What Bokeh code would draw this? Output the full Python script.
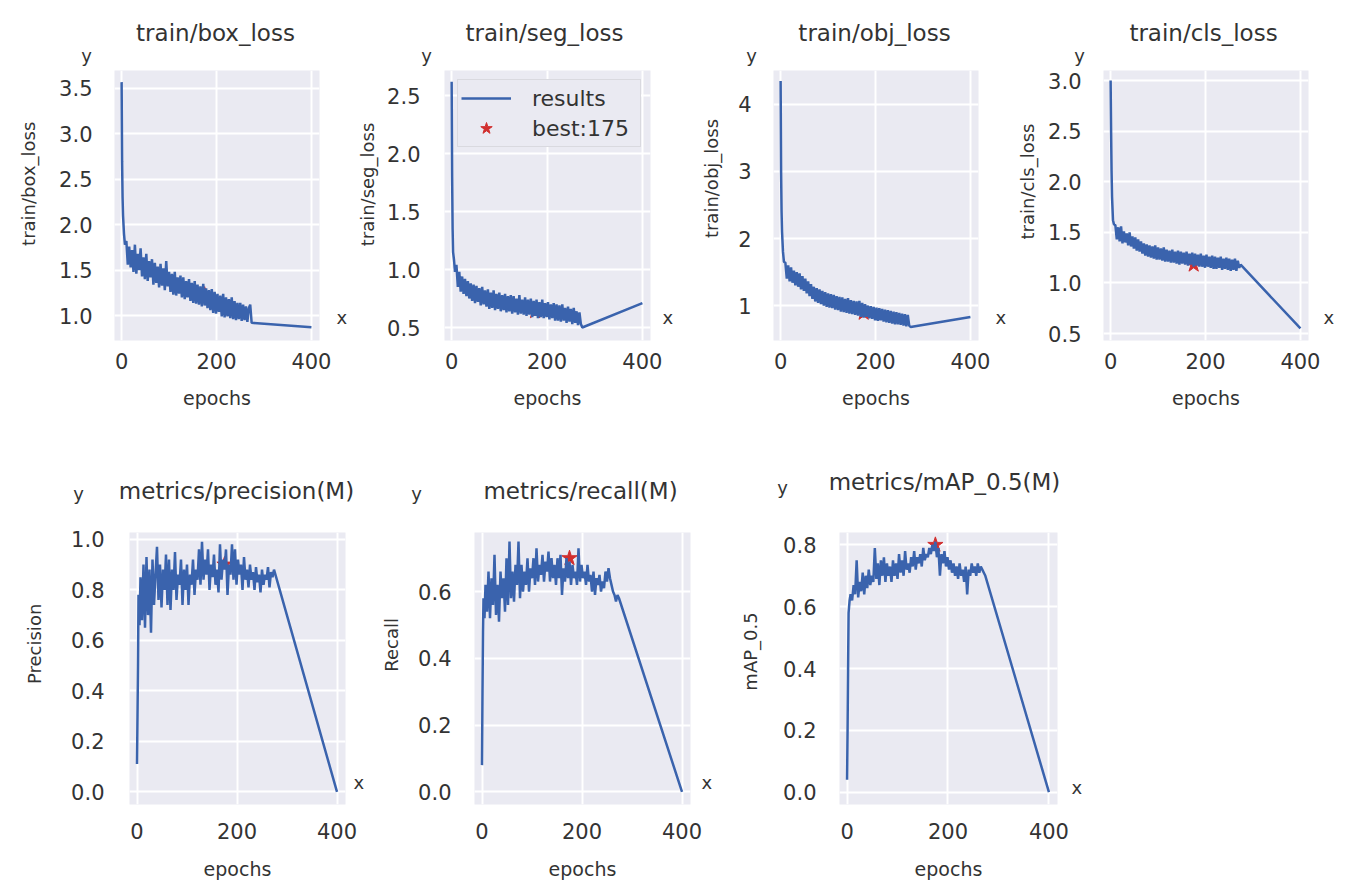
from bokeh.plotting import figure
from bokeh.models import (Label, FixedTicker, NumeralTickFormatter, Range1d, Legend, LegendItem,
                          LinearAxis, CustomJSTickFormatter, Title)
from bokeh.layouts import column, row
from bokeh.embed import file_html
from bokeh.resources import INLINE

# ---------------- data ----------------
epochs = [0, 1, 2, 3, 5, 7,
          10, 13, 16, 19, 22, 25, 28, 31, 34, 37,
          40, 43, 46, 49, 52, 55, 58, 61, 64, 67,
          70, 73, 76, 79, 82, 85, 88, 91, 94, 97,
          100, 103, 106, 109, 112, 115, 118, 121, 124, 127,
          130, 133, 136, 139, 142, 145, 148, 151, 154, 157,
          160, 163, 166, 169, 172, 175, 178, 181, 184, 187,
          190, 193, 196, 199, 202, 205, 208, 211, 214, 217,
          220, 223, 226, 229, 232, 235, 238, 241, 244, 247,
          250, 253, 256, 259, 262, 265, 268, 271, 274,
          400]

box_loss = [3.57, 2.70, 2.30, 2.10, 1.90, 1.78,
            1.82, 1.56, 1.76, 1.53, 1.72, 1.48, 1.78, 1.46, 1.68, 1.50,
            1.74, 1.43, 1.64, 1.40, 1.68, 1.38, 1.60, 1.42, 1.62, 1.34,
            1.58, 1.36, 1.54, 1.31, 1.57, 1.33, 1.52, 1.28, 1.60, 1.32,
            1.48, 1.26, 1.46, 1.23, 1.48, 1.22, 1.42, 1.24, 1.44, 1.20,
            1.42, 1.18, 1.38, 1.20, 1.40, 1.16, 1.36, 1.14, 1.38, 1.13,
            1.34, 1.12, 1.32, 1.10, 1.35, 1.11, 1.30, 1.08, 1.28, 1.06,
            1.29, 1.03, 1.26, 1.02, 1.24, 1.04, 1.22, 0.99, 1.24, 0.98,
            1.20, 0.99, 1.18, 0.97, 1.20, 0.96, 1.16, 0.95, 1.14, 0.96,
            1.14, 0.94, 1.12, 0.95, 1.10, 0.93, 1.08, 1.12, 0.92,
            0.87]

seg_loss = [2.62, 1.80, 1.35, 1.15, 1.08, 0.98,
            1.04, 0.85, 0.98, 0.81, 0.94, 0.79, 0.92, 0.77, 0.90, 0.75,
            0.88, 0.73, 0.87, 0.71, 0.86, 0.72, 0.84, 0.69, 0.85, 0.70,
            0.82, 0.68, 0.83, 0.66, 0.80, 0.67, 0.82, 0.65, 0.79, 0.66,
            0.80, 0.64, 0.78, 0.65, 0.79, 0.63, 0.77, 0.64, 0.78, 0.62,
            0.77, 0.63, 0.75, 0.61, 0.78, 0.62, 0.74, 0.61, 0.76, 0.60,
            0.74, 0.61, 0.75, 0.59, 0.73, 0.60, 0.74, 0.58, 0.72, 0.59,
            0.74, 0.58, 0.71, 0.59, 0.72, 0.57, 0.70, 0.58, 0.71, 0.56,
            0.70, 0.56, 0.69, 0.55, 0.70, 0.56, 0.67, 0.54, 0.68, 0.55,
            0.66, 0.53, 0.67, 0.54, 0.64, 0.52, 0.63, 0.53, 0.50,
            0.71]

obj_loss = [4.35, 3.00, 2.40, 2.10, 1.80, 1.65,
            1.64, 1.40, 1.60, 1.36, 1.57, 1.34, 1.52, 1.30, 1.50, 1.28,
            1.48, 1.24, 1.44, 1.22, 1.40, 1.18, 1.36, 1.14, 1.32, 1.10,
            1.28, 1.06, 1.26, 1.04, 1.24, 1.02, 1.22, 1.00, 1.20, 0.98,
            1.18, 0.97, 1.17, 0.96, 1.16, 0.94, 1.14, 0.93, 1.13, 0.91,
            1.12, 0.90, 1.10, 0.89, 1.11, 0.88, 1.08, 0.87, 1.07, 0.86,
            1.06, 0.85, 1.07, 0.83, 1.04, 0.82, 1.02, 0.83, 1.00, 0.81,
            0.99, 0.80, 0.98, 0.78, 0.97, 0.77, 0.96, 0.78, 0.95, 0.76,
            0.94, 0.75, 0.93, 0.74, 0.92, 0.73, 0.91, 0.72, 0.90, 0.72,
            0.89, 0.71, 0.88, 0.70, 0.87, 0.69, 0.86, 0.70, 0.68,
            0.83]

cls_loss = [3.00, 2.50, 2.10, 1.85, 1.62, 1.58,
            1.57, 1.43, 1.55, 1.41, 1.56, 1.39, 1.51, 1.40, 1.49, 1.37,
            1.50, 1.36, 1.46, 1.34, 1.45, 1.32, 1.43, 1.31, 1.41, 1.29,
            1.39, 1.27, 1.38, 1.26, 1.37, 1.25, 1.36, 1.24, 1.37, 1.23,
            1.35, 1.23, 1.34, 1.22, 1.35, 1.21, 1.33, 1.21, 1.32, 1.20,
            1.33, 1.20, 1.31, 1.19, 1.32, 1.18, 1.31, 1.19, 1.30, 1.18,
            1.31, 1.17, 1.29, 1.18, 1.30, 1.16, 1.29, 1.17, 1.28, 1.16,
            1.29, 1.16, 1.27, 1.15, 1.28, 1.16, 1.26, 1.15, 1.27, 1.14,
            1.26, 1.14, 1.25, 1.15, 1.26, 1.13, 1.24, 1.14, 1.25, 1.13,
            1.24, 1.12, 1.23, 1.13, 1.24, 1.12, 1.22, 1.15, 1.18,
            0.55]

precision = [0.11, 0.30, 0.50, 0.78, 0.66, 0.85,
             0.68, 0.90, 0.65, 0.93, 0.70, 0.88, 0.63, 0.92, 0.74, 0.86,
             0.97, 0.76, 0.90, 0.73, 0.88, 0.80, 0.94, 0.74, 0.92, 0.72,
             0.88, 0.80, 0.95, 0.76, 0.86, 0.82, 0.92, 0.74, 0.88, 0.80,
             0.90, 0.74, 0.86, 0.82, 0.92, 0.78, 0.88, 0.84, 0.96, 0.82,
             0.99, 0.84, 0.92, 0.86, 0.96, 0.80, 0.90, 0.85, 0.94, 0.82,
             0.88, 0.79, 0.98, 0.84, 0.92, 0.88, 0.96, 0.78, 0.90, 0.86,
             0.98, 0.84, 0.96, 0.82, 0.92, 0.86, 0.90, 0.80, 0.93, 0.84,
             0.88, 0.81, 0.90, 0.84, 0.87, 0.80, 0.89, 0.83, 0.86, 0.79,
             0.88, 0.82, 0.86, 0.84, 0.89, 0.81, 0.87, 0.85, 0.88,
             0.00]

recall = [0.08, 0.30, 0.48, 0.58, 0.52, 0.62,
          0.54, 0.66, 0.52, 0.64, 0.56, 0.71, 0.53, 0.62, 0.51, 0.66,
          0.58, 0.64, 0.54, 0.70, 0.56, 0.75, 0.58, 0.66, 0.57, 0.68,
          0.62, 0.75, 0.58, 0.68, 0.60, 0.66, 0.62, 0.70, 0.60, 0.67,
          0.64, 0.70, 0.62, 0.73, 0.63, 0.68, 0.65, 0.71, 0.63, 0.69,
          0.66, 0.72, 0.63, 0.70, 0.64, 0.68, 0.62, 0.70, 0.64, 0.71,
          0.59, 0.67, 0.63, 0.70, 0.64, 0.69, 0.62, 0.68, 0.64, 0.66,
          0.62, 0.73, 0.63, 0.68, 0.64, 0.66, 0.62, 0.68, 0.63, 0.65,
          0.60, 0.66, 0.59, 0.64, 0.62, 0.65, 0.60, 0.63, 0.61, 0.66,
          0.63, 0.67, 0.64, 0.62, 0.60, 0.59, 0.57, 0.59, 0.58,
          0.00]

map50 = [0.04, 0.20, 0.40, 0.58, 0.62, 0.64,
         0.62, 0.67, 0.64, 0.75, 0.63, 0.68, 0.65, 0.71, 0.64, 0.70,
         0.66, 0.72, 0.67, 0.70, 0.68, 0.79, 0.69, 0.74, 0.67, 0.75,
         0.70, 0.76, 0.68, 0.74, 0.70, 0.73, 0.68, 0.75, 0.70, 0.74,
         0.69, 0.77, 0.71, 0.75, 0.70, 0.78, 0.72, 0.74, 0.71, 0.76,
         0.73, 0.78, 0.72, 0.76, 0.74, 0.77, 0.73, 0.79, 0.75, 0.77,
         0.76, 0.79, 0.77, 0.80, 0.78, 0.81, 0.76, 0.79, 0.70, 0.77,
         0.74, 0.78, 0.73, 0.76, 0.72, 0.75, 0.71, 0.74, 0.70, 0.73,
         0.69, 0.74, 0.70, 0.72, 0.68, 0.73, 0.64, 0.72, 0.70, 0.74,
         0.71, 0.73, 0.70, 0.74, 0.71, 0.73, 0.72, 0.71, 0.70,
         0.00]

best_epoch = 175
best_box = 1.23
best_seg = 0.64
best_obj = 0.89
best_cls = 1.18
best_precision = 0.90
best_recall = 0.70
best_map50 = 0.80

x_ticks = [0, 200, 400]
box_ticks = [1.0, 1.5, 2.0, 2.5, 3.0, 3.5]
seg_ticks = [0.5, 1.0, 1.5, 2.0, 2.5]
obj_ticks = [1, 2, 3, 4]
cls_ticks = [0.5, 1.0, 1.5, 2.0, 2.5, 3.0]
precision_ticks = [0.0, 0.2, 0.4, 0.6, 0.8, 1.0]
recall_ticks = [0.0, 0.2, 0.4, 0.6]
map_ticks = [0.0, 0.2, 0.4, 0.6, 0.8]

titles = ["train/box_loss", "train/seg_loss", "train/obj_loss", "train/cls_loss",
          "metrics/precision(M)", "metrics/recall(M)", "metrics/mAP_0.5(M)"]
ylabels = ["train/box_loss", "train/seg_loss", "train/obj_loss", "train/cls_loss",
           "Precision", "Recall", "mAP_0.5"]

for _s in (box_loss, seg_loss, obj_loss, cls_loss, precision, recall, map50):
    assert len(_s) == len(epochs), (len(_s), len(epochs))

# ---------------- style ----------------
FONT = "DejaVu Sans"
TXT = "#333333"
BG = "#EAEAF2"
LINE = "#3A63AD"
STAR = "#D12F2F"
TICK_PX = 21
YLAB_PX = 18

# approximate DejaVu Sans advance widths (em) used for placing rotated labels
ADV = {"t": .392, "r": .411, "a": .613, "i": .278, "n": .634, "/": .337, "b": .635, "o": .612,
       "x": .592, "_": .500, "l": .278, "s": .521, "e": .615, "g": .635, "j": .278, "c": .550,
       "P": .603, "R": .695, "m": .974, "A": .684, "0": .636, ".": .318, "5": .636, "1": .636,
       "2": .636, "3": .636, "4": .636}


def text_w(t, px):
    return sum(ADV.get(ch, 0.6) for ch in t) * px


def fmt_tick(t, fmt):
    return f"{t:.0f}" if fmt == "0" else f"{t:.1f}"


def make_panel(i, yvals, best, yrange, yticks, fmt, geom, legend=False):
    (w, h, bl, br, bt, bb, ystand, xstand, lstand, ylpos, xlab_rel, xlab_st) = geom
    p = figure(width=w, height=h, x_range=Range1d(-15, 417), y_range=Range1d(*yrange),
               output_backend="svg", toolbar_location=None, title_location=None,
               min_border_left=bl, min_border_right=br,
               min_border_top=bt, min_border_bottom=bb)
    p.background_fill_color = BG
    p.border_fill_color = "white"
    p.outline_line_color = None
    xa, ya = p.xaxis[0], p.yaxis[0]
    xa.ticker = FixedTicker(ticks=x_ticks)
    ya.ticker = FixedTicker(ticks=yticks)
    ya.formatter = NumeralTickFormatter(format=fmt)
    for ax in (xa, ya):
        ax.axis_line_color = None
        ax.major_tick_line_color = None
        ax.minor_tick_line_color = None
        ax.major_tick_out = 0
        ax.major_tick_in = 0
        ax.minor_tick_out = 0
        ax.minor_tick_in = 0
        ax.major_label_text_font = FONT
        ax.major_label_text_font_size = f"{TICK_PX}px"
        ax.major_label_text_color = TXT
    ya.major_label_standoff = ystand
    xa.major_label_standoff = xstand
    xa.axis_label = "epochs"
    xa.axis_label_standoff = lstand
    xa.axis_label_text_font = FONT
    xa.axis_label_text_font_size = "19px"
    xa.axis_label_text_font_style = "normal"
    xa.axis_label_text_color = TXT
    for g in (p.xgrid[0], p.ygrid[0]):
        g.grid_line_color = "white"
        g.grid_line_width = 2

    s = p.scatter([best_epoch], [best], marker="star", size=16, color=STAR)
    ln = p.line(epochs, yvals, line_color=LINE, line_width=2.5)

    # rotated y label as a side title, placed along the axis
    fh = h - bt - bb
    tick_w = max(text_w(fmt_tick(t, fmt), TICK_PX) for t in yticks)
    axis_w = ystand + tick_w
    dist = -ylpos[0]
    slot = min(2 * (dist - axis_w), bl - axis_w - 3)
    L = text_w(ylabels[i], YLAB_PX)
    p.add_layout(Title(text=ylabels[i], align="left", vertical_align="middle",
                       offset=ylpos[1] - L / 2, standoff=int(round(slot - 2 - 17)),
                       text_font=FONT, text_font_size=f"{YLAB_PX}px", text_font_style="normal",
                       text_color=TXT), "left")

    # small "x" marker text at the right of the frame, as a right axis tick label
    y0, y1 = yrange
    xv = y0 + xlab_rel * (y1 - y0) / fh
    ra = LinearAxis(ticker=FixedTicker(ticks=[xv]),
                    formatter=CustomJSTickFormatter(code="return 'x'"),
                    axis_line_color=None, major_tick_line_color=None, minor_tick_line_color=None,
                    major_tick_out=0, major_tick_in=0, minor_tick_out=0, minor_tick_in=0,
                    major_label_standoff=xlab_st, major_label_text_font=FONT,
                    major_label_text_font_size="18px", major_label_text_color=TXT)
    p.add_layout(ra, "right")

    if legend:
        lg = Legend(items=[LegendItem(label="results", renderers=[ln]),
                           LegendItem(label="best:175", renderers=[s])],
                    location="top_right", margin=9, padding=3, spacing=0,
                    glyph_width=50, glyph_height=30, label_height=30, label_width=105,
                    label_standoff=21,
                    label_text_font=FONT, label_text_font_size="22px", label_text_color=TXT,
                    background_fill_color=BG, background_fill_alpha=1.0,
                    border_line_color="#C8C8CC", border_line_width=1.5)
        p.add_layout(lg)
    return p


def make_strip(w, h, items):
    s = figure(width=w, height=h, x_range=Range1d(0, w), y_range=Range1d(0, h),
               output_backend="svg", toolbar_location=None, title_location=None,
               x_axis_location=None, y_axis_location=None, min_border=0)
    s.outline_line_color = None
    s.background_fill_color = "white"
    s.border_fill_color = "white"
    for g in s.grid:
        g.visible = False
    for text, x, y, size in items:
        s.add_layout(Label(x=x, y=y, text=text, text_font=FONT, text_font_size=size,
                           text_color=TXT, text_align="center", text_baseline="alphabetic"))
    return s


# panel geometry: w, h, border l/r/t/b, ytick standoff, xtick standoff, xlabel standoff,
#                 y-label centre (x from frame left, y from frame bottom),
#                 "x" marker height above frame bottom, "x" marker standoff
g1 = (350, 362, 110, 28, 4, 88, 22, 12, 15, (-85, 157), 23, 17)
g2 = (336, 362, 90, 36, 4, 88, 24, 12, 15, (-83, 156), 23, 12)
g3 = (323, 362, 83, 30, 4, 88, 22, 12, 15, (-64, 162), 23, 17)
g4 = (331, 362, 90, 32, 4, 88, 22, 12, 15, (-82, 159), 23, 15)
g5 = (367, 364, 125, 22, 14, 69, 25, 18, 16, (-97, 161), 23, 8)
g6 = (353, 364, 103, 30, 14, 69, 23, 18, 16, (-88, 160), 23, 11)
g7 = (370, 364, 115, 33, 7, 74, 23, 18, 16, (-92, 153), 18, 14)

p1 = make_panel(0, box_loss, best_box, (0.725, 3.698), box_ticks, "0.0", g1)
p2 = make_panel(1, seg_loss, best_seg, (0.388, 2.716), seg_ticks, "0.0", g2, legend=True)
p3 = make_panel(2, obj_loss, best_obj, (0.478, 4.507), obj_ticks, "0", g3)
p4 = make_panel(3, cls_loss, best_cls, (0.431, 3.099), cls_ticks, "0.0", g4)
p5 = make_panel(4, precision, best_precision, (-0.05, 1.027), precision_ticks, "0.0", g5)
p6 = make_panel(5, recall, best_recall, (-0.038, 0.777), recall_ticks, "0.0", g6)
p7 = make_panel(6, map50, best_map50, (-0.04, 0.84), map_ticks, "0.0", g7)

# title strips (title text and the small "y" marker above each panel)
s1 = make_strip(350, 66, [(titles[0], 215, 34, "23px"), ("y", 86, 11, "18px")])
s2 = make_strip(336, 66, [(titles[1], 194, 34, "23px"), ("y", 76, 11, "18px")])
s3 = make_strip(323, 66, [(titles[2], 188, 34, "23px"), ("y", 65, 11, "18px")])
s4 = make_strip(331, 66, [(titles[3], 194, 34, "23px"), ("y", 70, 11, "18px")])
s5 = make_strip(367, 90, [(titles[4], 236, 28, "23px"), ("y", 78, 25, "18px")])
s6 = make_strip(353, 90, [(titles[5], 213, 28, "23px"), ("y", 49, 25, "18px")])
s7 = make_strip(370, 90, [(titles[6], 224, 37, "23px"), ("y", 62, 31, "18px")])

layout = column(row(s1, s2, s3, s4), row(p1, p2, p3, p4),
                row(s5, s6, s7), row(p5, p6, p7))

with open("out.html", "w") as f:
    f.write(file_html(layout, INLINE))
